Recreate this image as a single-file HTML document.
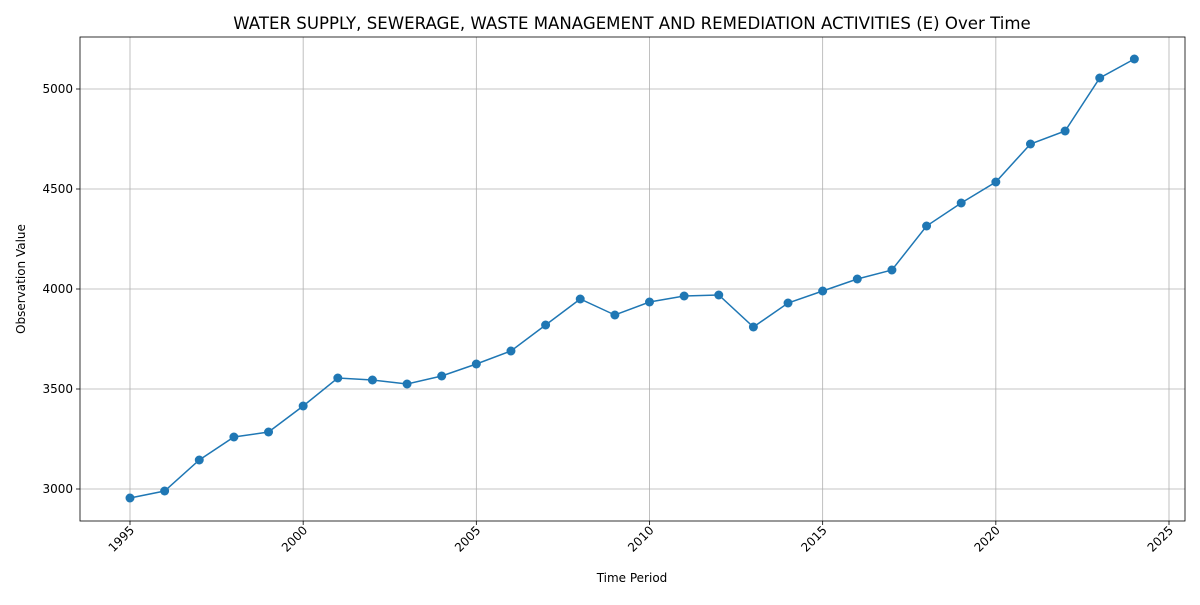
<!DOCTYPE html>
<html><head><meta charset="utf-8"><style>
body{margin:0;background:#fff;font-family:"Liberation Sans","DejaVu Sans",sans-serif;}
svg text{font-family:"DejaVu Sans","Liberation Sans",sans-serif;}
</style></head><body>
<svg id="chart" width="1200" height="600" xmlns="http://www.w3.org/2000/svg"></svg>
<script>
const years=[1995,1996,1997,1998,1999,2000,2001,2002,2003,2004,2005,2006,2007,2008,2009,2010,2011,2012,2013,2014,2015,2016,2017,2018,2019,2020,2021,2022,2023,2024];
const values=[2955,2990,3145,3260,3285,3415,3555,3545,3525,3565,3625,3690,3820,3950,3870,3935,3965,3970,3810,3930,3990,4050,4095,4315,4430,4535,4725,4790,5055,5150];
const xTicks=[1995,2000,2005,2010,2015,2020,2025];
const yTicks=[3000,3500,4000,4500,5000];
const L=80,R=1185,T=37,B=521;
const sx=v=>130+(v-1995)*(1169-130)/30;
const sy=v=>489-(v-3000)*0.2;
const svg=document.getElementById('chart');
const NS='http://www.w3.org/2000/svg';
function mk(tag,attrs,parent){const e=document.createElementNS(NS,tag);for(const k in attrs)e.setAttribute(k,attrs[k]);(parent||svg).appendChild(e);return e;}
const grid=mk('g',{});


xTicks.forEach(t=>{
  mk('line',{x1:sx(t),x2:sx(t),y1:T,y2:B,stroke:'#b0b0b0','stroke-width':0.8},grid);
  mk('line',{x1:sx(t),x2:sx(t),y1:B,y2:B+4,stroke:'#000','stroke-width':0.8});
  const tx=mk('text',{x:0,y:0,'font-size':12,'text-anchor':'end',transform:`translate(${sx(t)+5},${B+10}) rotate(-45)`});
  
  
  tx.textContent=t;
});
yTicks.forEach(t=>{
  mk('line',{x1:L,x2:R,y1:sy(t),y2:sy(t),stroke:'#b0b0b0','stroke-width':0.8},grid);
  mk('line',{x1:L-4,x2:L,y1:sy(t),y2:sy(t),stroke:'#000','stroke-width':0.8});
  const tx=mk('text',{x:L-7,y:sy(t)+4,'font-size':12,'text-anchor':'end'});
  
  
  tx.textContent=t;
});
const frame=mk('rect',{x:L,y:T,width:R-L,height:B-T,fill:'none',stroke:'#000','stroke-width':0.8});


const line=mk('polyline',{points:years.map((y,i)=>sx(y)+','+sy(values[i])).join(' '),fill:'none',stroke:'#1f77b4','stroke-width':1.5});


years.forEach((y,i)=>{
  const c=mk('circle',{cx:sx(y),cy:sy(values[i]),r:4.5,fill:'#1f77b4'});
  
  
});
const title=mk('text',{x:632,y:29,'font-size':16.6,'text-anchor':'middle'});


title.textContent='WATER SUPPLY, SEWERAGE, WASTE MANAGEMENT AND REMEDIATION ACTIVITIES (E) Over Time';
const xt=mk('text',{x:632,y:582,'font-size':12,'text-anchor':'middle'});


xt.textContent='Time Period';
const yt=mk('text',{x:0,y:0,'font-size':12,'text-anchor':'middle',transform:'translate(25,279) rotate(-90)'});


yt.textContent='Observation Value';
</script>
</body></html>
